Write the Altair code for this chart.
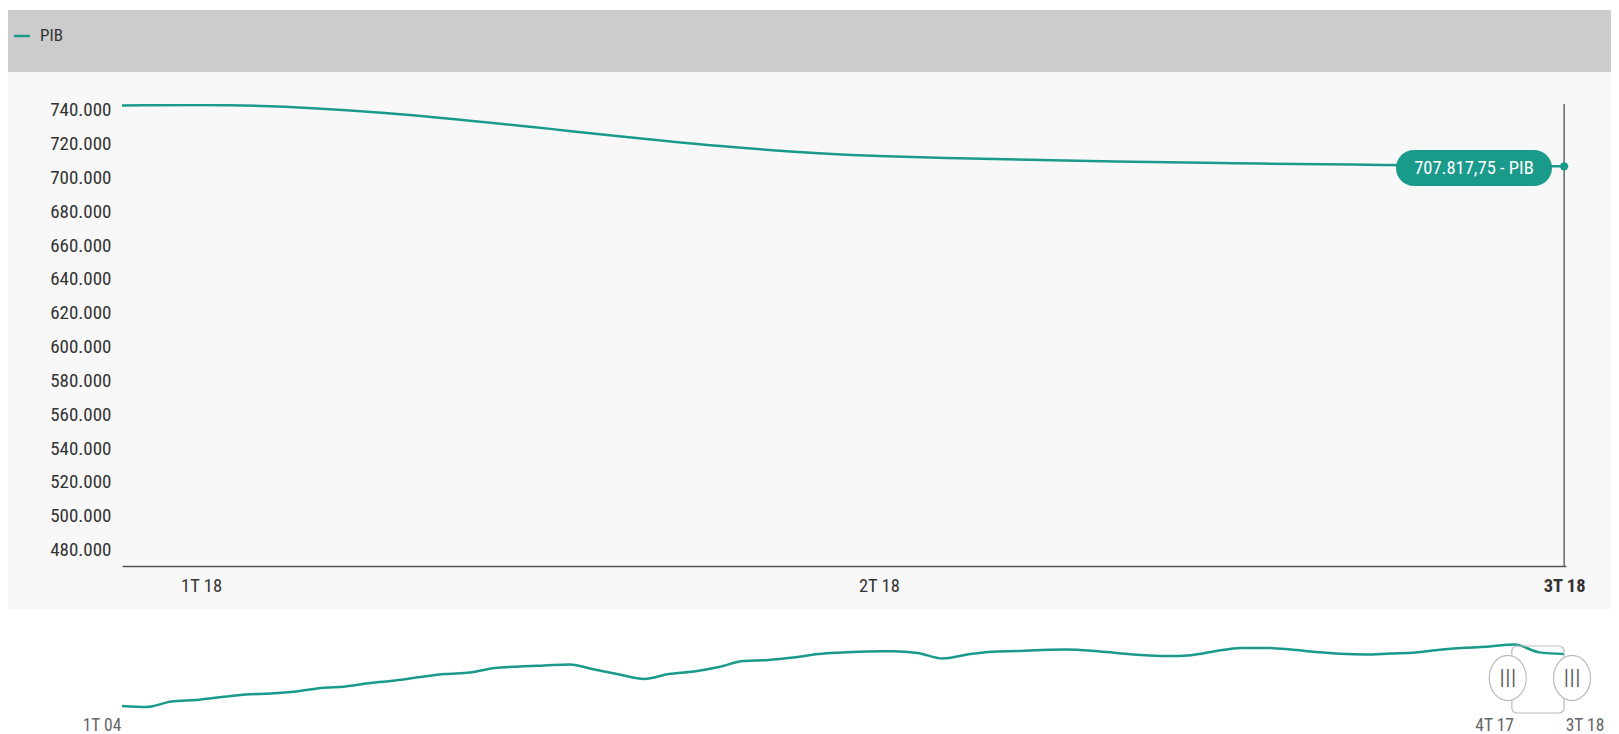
import altair as alt
import pandas as pd

# ---------------- data ----------------
years = list(range(2004, 2019))
quarter_dates = []
quarter_labels = []
for yy in years:
    for q in range(1, 5):
        if yy == 2018 and q > 3:
            break
        quarter_dates.append(f"{yy}-{3 * (q - 1) + 1:02d}-01")
        quarter_labels.append(f"{q}T {str(yy)[2:]}")

pib_values = [
    509200, 505400, 526400, 532100, 543500, 553100, 556900, 564600,
    577900, 583700, 597000, 606600, 619900, 631400, 637100, 654300,
    660100, 663900, 667700, 648600, 629500, 612300, 631400, 641000,
    658100, 681100, 684900, 694400, 707800, 713500, 717400, 718000,
    711600, 690600, 705900, 716800, 719300, 723100, 725000, 720500,
    711600, 704000, 700200, 703500, 719300, 730700, 731200, 725000,
    715400, 708500, 705900, 709700, 713500, 724200, 731500, 736500,
    744100, 714000, 707817.75,
]

y_ticks = [480000, 500000, 520000, 540000, 560000, 580000, 600000, 620000,
           640000, 660000, 680000, 700000, 720000, 740000]
series_name = "PIB"

df = pd.DataFrame({"date": quarter_dates, "value": pib_values, "label": quarter_labels})
last = df.iloc[[-1]].copy()
v = last["value"].iloc[0]
last["tip"] = (f"{v:,.2f}".replace(",", "#").replace(".", ",").replace("#", ".")) + " - " + series_name

# selection of the navigator (zoomed range of the main chart)
sel_start = alt.DateTime(year=2017, month=12, date=21, hours=12, utc=True)
sel_end = alt.DateTime(year=2018, month=7, date=1, hours=6, utc=True)
sel_df = pd.DataFrame({"start": ["2017-12-21T12:00:00Z"], "end": ["2018-07-01T06:00:00Z"]})
nav_dates = [quarter_dates[0], "2017-10-01", quarter_dates[-1]]
nav_texts = [quarter_labels[0], "4T 17", quarter_labels[-1]]
one = pd.DataFrame({"a": [0]})

# ---------------- style ----------------
TEAL = "#1a9a8b"
FONT = "Roboto Condensed, Liberation Sans Narrow, DejaVu Sans Condensed, Arial Narrow, Roboto, sans-serif"
W, H = 1444, 462

# ---------------- main chart ----------------
x_axis = alt.Axis(
    values=[alt.DateTime(year=2018, month=m, date=1, utc=True) for m in (1, 4, 7)],
    labelExpr="utcquarter(datum.value) + 'T ' + utcFormat(datum.value, '%y')",
    ticks=False, grid=False, domainColor="#555", domainWidth=1.5,
    labelFontSize=18.5, labelColor="#333", labelPadding=10, labelFlush=False,
    labelOverlap=False, labelFont=FONT, zindex=2,
    labelFontWeight={"condition": {"test": "utcquarter(datum.value) == 3", "value": "bold"}, "value": "normal"},
)
y_axis = alt.Axis(
    values=y_ticks,
    labelExpr="replace(format(datum.value, ',.0f'), ',', '.')",
    domain=False, ticks=False, grid=False, labelPadding=11,
    labelFontSize=19, labelColor="#333", labelOffset=-2, labelFont=FONT,
    labelOverlap=False, labelBound=False, zindex=2,
)
x_scale = alt.Scale(type="utc", domain=[sel_start, sel_end], nice=False)
y_scale = alt.Scale(domain=[471400, 744700], nice=False, zero=False)

x_main = alt.X("date:T", title=None, scale=x_scale, axis=x_axis)
y_main = alt.Y("value:Q", title=None, scale=y_scale, axis=y_axis)

header = alt.Chart(one).mark_rect(color="#cccccc").encode(
    x=alt.value(-114), x2=alt.value(W + 45), y=alt.value(-94), y2=alt.value(-32))
panel = alt.Chart(one).mark_rect(color="#f8f8f8").encode(
    x=alt.value(-114), x2=alt.value(W + 45), y=alt.value(-32), y2=alt.value(H + 43))
leg_rule = alt.Chart(one).mark_rule(color=TEAL, strokeWidth=2.5).encode(
    x=alt.value(-108), x2=alt.value(-92), y=alt.value(-68))
leg_text = alt.Chart(one).mark_text(align="left", baseline="middle", fontSize=17,
                                    color="#333", font=FONT).encode(
    x=alt.value(-82), y=alt.value(-68), text=alt.value(series_name))

line = alt.Chart(df).mark_line(clip=True, interpolate="monotone", color=TEAL,
                               strokeWidth=2.5).encode(x=x_main, y=y_main)
cross = alt.Chart(last).mark_rule(color="#666", strokeWidth=1.5).encode(
    x=x_main, y=alt.value(0), y2=alt.value(H))
dot = alt.Chart(last).mark_point(filled=True, size=70, color=TEAL, opacity=1).encode(
    x=x_main, y=y_main)
tip_box = alt.Chart(last).mark_rect(cornerRadius=18, color=TEAL).encode(
    x=alt.value(1274), x2=alt.value(1430), y=alt.value(46), y2=alt.value(82))
tip_text = alt.Chart(last).mark_text(color="white", fontSize=18.5, font=FONT,
                                     baseline="middle").encode(
    x=alt.value(1352), y=alt.value(64), text="tip:N")

main = alt.layer(header, panel, leg_rule, leg_text, line, cross, dot, tip_box, tip_text)

# ---------------- navigator ----------------
x_nav = alt.X("date:T", title=None, axis=None,
              scale=alt.Scale(type="utc", nice=False, range=[0, 1442],
                              domain=[alt.DateTime(year=2004, month=1, date=1, utc=True),
                                      alt.DateTime(year=2018, month=7, date=1, utc=True)]))
y_nav = alt.Y("value:Q", title=None, axis=None,
              scale=alt.Scale(domain=[505400, 744100], range=[603, 540.5], nice=False, zero=False))

nav_line = alt.Chart(df).mark_line(interpolate="monotone", color=TEAL, strokeWidth=2.5).encode(
    x=x_nav, y=y_nav)
bracket = alt.Chart(sel_df).mark_rect(fillOpacity=0, stroke="#bbbbbb", strokeWidth=1.2,
                                      cornerRadius=5).encode(
    x=alt.X("start:T", axis=None), x2="end:T", y=alt.value(542), y2=alt.value(609))

ell_l = "M -0.22,-1.22 A 1,1.22 0 1,1 -0.22,1.22 A 1,1.22 0 1,1 -0.22,-1.22 Z"
ell_r = "M 0.43,-1.22 A 1,1.22 0 1,1 0.43,1.22 A 1,1.22 0 1,1 0.43,-1.22 Z"
handle_l = alt.Chart(sel_df).mark_point(shape=ell_l, size=1369, fill="white", stroke="#bbbbbb",
                                         strokeWidth=1.2, fillOpacity=1, opacity=1).encode(
    x=alt.X("start:T", axis=None), y=alt.value(574))
handle_r = alt.Chart(sel_df).mark_point(shape=ell_r, size=1369, fill="white", stroke="#bbbbbb",
                                         strokeWidth=1.2, fillOpacity=1, opacity=1).encode(
    x=alt.X("end:T", axis=None), y=alt.value(574))
grip_l = alt.Chart(sel_df).mark_text(text="|||", fontSize=17, color="#555", dx=-4,
                                     font="DejaVu Sans", baseline="middle").encode(
    x=alt.X("start:T", axis=None), y=alt.value(574))
grip_r = alt.Chart(sel_df).mark_text(text="|||", fontSize=17, color="#555", dx=8,
                                     font="DejaVu Sans", baseline="middle").encode(
    x=alt.X("end:T", axis=None), y=alt.value(574))

nav_text_items = []
for d, lab, dx in zip(nav_dates, nav_texts, [-20, 5, 21]):
    nav_text_items.append(
        alt.Chart(pd.DataFrame({"date": [d], "label": [lab]})).mark_text(
            fontSize=17.5, color="#666", font=FONT, baseline="middle", dx=dx
        ).encode(x=alt.X("date:T", axis=None), y=alt.value(622), text="label:N")
    )

nav = alt.layer(nav_line, bracket, handle_l, handle_r, grip_l, grip_r, *nav_text_items)

chart = (
    alt.layer(main, nav)
    .resolve_scale(x="independent", y="independent")
    .properties(width=W, height=H, background="white",
                padding={"left": 0, "top": 2, "right": 0, "bottom": 0})
    .configure_view(stroke=None)
    .configure_axis(labelOverlap=False)
)

chart.save("out.html", embed_options={"renderer": "svg", "actions": False})
